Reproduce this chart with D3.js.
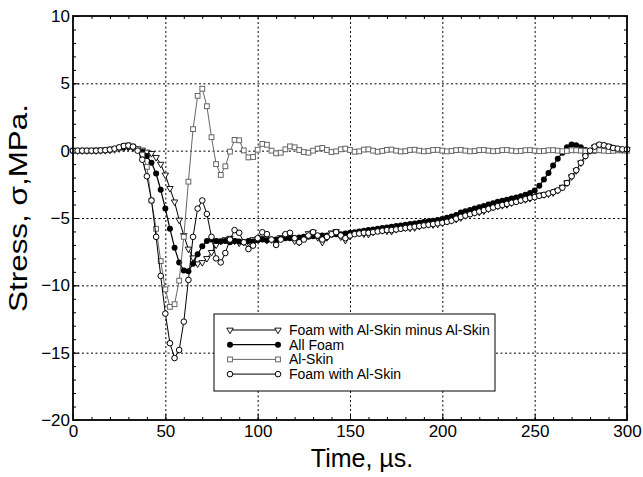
<!DOCTYPE html>
<html>
<head>
<meta charset="utf-8">
<script src="https://cdn.jsdelivr.net/npm/d3@7"></script>
<style>
body { margin: 0; background: #fff; }
text { font-family: "Liberation Sans", Arial, sans-serif; fill: #000; }
</style>
</head>
<body>
<svg id="myGraph" width="643" height="477"></svg>
<script>
// sample times, us
var time = [
  0, 2.5, 5, 7.5, 10, 12.5, 15, 17.5, 20, 22.5,
  25, 27.5, 30, 32.5, 35, 37.5, 40, 42.5, 45, 47.5,
  50, 52.5, 55, 57.5, 60, 62.5, 65, 67.5, 70, 72.5,
  75, 77.5, 80, 82.5, 85, 87.5, 90, 92.5, 95, 97.5,
  100, 102.5, 105, 107.5, 110, 112.5, 115, 117.5, 120, 122.5,
  125, 127.5, 130, 132.5, 135, 137.5, 140, 142.5, 145, 147.5,
  150, 152.5, 155, 157.5, 160, 162.5, 165, 167.5, 170, 172.5,
  175, 177.5, 180, 182.5, 185, 187.5, 190, 192.5, 195, 197.5,
  200, 202.5, 205, 207.5, 210, 212.5, 215, 217.5, 220, 222.5,
  225, 227.5, 230, 232.5, 235, 237.5, 240, 242.5, 245, 247.5,
  250, 252.5, 255, 257.5, 260, 262.5, 265, 267.5, 270, 272.5,
  275, 277.5, 280, 282.5, 285, 287.5, 290, 292.5, 295, 297.5,
  300];

// Foam with Al-Skin minus Al-Skin
var minusSkin = [
  0, 0, 0, 0, 0, 0, 0.01, 0.02, 0.04, 0.08,
  0.15, 0.2, 0.25, 0.22, 0.15, 0.05, -0.1, -0.2, -0.5, -1.0,
  -1.8, -2.8, -3.8, -5.15, -6.3, -7.3, -7.95, -8.4, -8.3, -8.0,
  -7.55, -7.0, -6.7, -6.6, -6.5, -6.7, -6.85, -6.8, -6.8, -6.6,
  -6.55, -6.5, -6.65, -6.6, -6.8, -6.45, -6.3, -6.4, -6.7, -6.8,
  -6.5, -6.15, -6.05, -6.45, -6.8, -6.45, -6.1, -6.0, -6.4, -6.65,
  -6.35, -6.12, -6.1, -6.18, -6.2, -6.05, -5.92, -5.93, -5.96, -5.98,
  -5.85, -5.74, -5.71, -5.75, -5.72, -5.6, -5.5, -5.48, -5.5, -5.46,
  -5.35, -5.23, -5.18, -5.09, -4.98, -4.82, -4.67, -4.59, -4.56, -4.47,
  -4.32, -4.18, -4.1, -4.07, -4.0, -3.87, -3.76, -3.68, -3.63, -3.54,
  -3.45, -3.31, -3.26, -3.21, -3.12, -2.95, -2.71, -2.38, -1.93, -1.48,
  -0.9, -0.37, 0.02, 0.27, 0.42, 0.4, 0.33, 0.21, 0.13, 0.08,
  0.1];

// All Foam
var allFoam = [
  0, 0, 0, 0, 0, 0, 0.02, 0.04, 0.07, 0.12,
  0.2, 0.26, 0.3, 0.25, 0.1, -0.1, -0.4, -0.9, -1.7, -2.9,
  -4.3, -5.8, -7.2, -8.3, -8.9, -8.95, -8.4, -7.7, -7.1, -6.7,
  -6.6, -6.7, -6.75, -6.7, -6.8, -6.7, -6.75, -6.8, -6.7, -6.75,
  -6.65, -6.6, -6.65, -6.6, -6.6, -6.55, -6.5, -6.5, -6.5, -6.45,
  -6.4, -6.4, -6.35, -6.35, -6.3, -6.3, -6.25, -6.2, -6.2, -6.15,
  -6.1, -6.05, -6.0, -5.95, -5.9, -5.85, -5.8, -5.75, -5.7, -5.65,
  -5.6, -5.55, -5.5, -5.45, -5.4, -5.35, -5.3, -5.25, -5.2, -5.15,
  -5.08, -4.98, -4.88, -4.77, -4.6, -4.5, -4.4, -4.3, -4.2, -4.1,
  -4.0, -3.9, -3.8, -3.72, -3.64, -3.55, -3.47, -3.38, -3.28, -3.15,
  -2.95, -2.6, -2.15, -1.65, -1.1, -0.6, -0.15, 0.25, 0.45, 0.4,
  0.25, 0.05, -0.05, 0.0, 0.05, 0.05, 0.04, 0.05, 0.05, 0.05,
  0.05];

// Al-Skin
var alSkin = [
  0, 0, 0, 0, 0, 0.02, 0.03, 0.05, 0.08, 0.12,
  0.2, 0.35, 0.4, 0.3, 0.1, -0.3, -1.2, -3.7, -5.8, -8.2,
  -10.3, -11.6, -11.4, -9.65, -6.4, -2.3, 1.6, 4.07, 4.6, 3.3,
  1.0, -1.0, -1.8, -1.16, -0.07, 0.8, 0.77, 0.02, -0.5, -0.47,
  0.07, 0.5, 0.44, 0.0, -0.2, -0.15, 0.1, 0.32, 0.25, 0.05,
  -0.1, -0.15, 0.0, 0.15, 0.2, 0.05, -0.1, -0.05, 0.1, 0.15,
  0.05, -0.08, -0.05, 0.08, 0.1, 0.0, -0.08, -0.02, 0.06, 0.08,
  0.0, -0.06, -0.04, 0.05, 0.07, 0.0, -0.05, -0.02, 0.05, 0.06,
  0.0, -0.05, -0.02, 0.04, 0.06, 0.0, -0.05, -0.03, 0.04, 0.05,
  0.0, -0.04, -0.02, 0.04, 0.05, 0.0, -0.04, -0.02, 0.03, 0.04,
  0.0, -0.04, -0.02, 0.03, 0.04, 0.0, -0.04, -0.02, 0.03, 0.03,
  0.0, -0.03, -0.02, 0.03, 0.03, 0.0, -0.03, -0.01, 0.02, 0.02,
  0.0];

// Foam with Al-Skin
var withSkin = [
  0, 0, 0, 0, 0, 0, 0.02, 0.04, 0.08, 0.15,
  0.25, 0.35, 0.38, 0.3, 0.0, -0.67, -1.9, -3.7, -6.4, -9.3,
  -12.1, -14.3, -15.4, -14.8, -12.7, -9.6, -6.4, -4.3, -3.7, -4.7,
  -6.4, -8.0, -8.3, -7.6, -6.6, -5.9, -6.1, -6.8, -7.3, -7.05,
  -6.5, -6.06, -6.2, -6.6, -7.0, -6.6, -6.2, -6.1, -6.5, -6.8,
  -6.6, -6.3, -6.05, -6.3, -6.6, -6.4, -6.2, -6.05, -6.3, -6.5,
  -6.3, -6.2, -6.15, -6.1, -6.1, -6.05, -6.0, -5.95, -5.9, -5.9,
  -5.85, -5.8, -5.75, -5.7, -5.65, -5.6, -5.55, -5.5, -5.45, -5.4,
  -5.35, -5.28, -5.2, -5.05, -4.92, -4.82, -4.72, -4.62, -4.52, -4.42,
  -4.32, -4.22, -4.12, -4.03, -3.95, -3.87, -3.8, -3.7, -3.6, -3.5,
  -3.45, -3.35, -3.28, -3.18, -3.08, -2.95, -2.75, -2.4, -1.9, -1.45,
  -0.9, -0.4, 0.0, 0.3, 0.45, 0.4, 0.3, 0.2, 0.15, 0.1,
  0.1];

var seriesNames = ["Foam with Al-Skin minus Al-Skin", "All Foam", "Al-Skin", "Foam with Al-Skin"];
var xTicks = [0, 50, 100, 150, 200, 250, 300];
var yTicks = [-20, -15, -10, -5, 0, 5, 10];

var svg = d3.select("#myGraph");
var pL = 73, pR = 627, pT = 16, pB = 420;

var x = d3.scaleLinear().domain([0, 300]).range([pL, pR]);
var y = d3.scaleLinear().domain([-20, 10]).range([pB, pT]);

// dotted grid
svg.append("g")
  .attr("transform", "translate(0," + pB + ")")
  .call(d3.axisBottom(x).tickValues(xTicks.slice(1, -1)).tickSize(-(pB - pT)).tickFormat(""))
  .call(function(g) { g.select(".domain").remove(); })
  .selectAll("line").attr("stroke", "#000").attr("stroke-dasharray", "2,2.5");
svg.append("g")
  .attr("transform", "translate(" + pL + ",0)")
  .call(d3.axisLeft(y).tickValues(yTicks.slice(1, -1)).tickSize(-(pR - pL)).tickFormat(""))
  .call(function(g) { g.select(".domain").remove(); })
  .selectAll("line").attr("stroke", "#000").attr("stroke-dasharray", "2,2.5");

// minor ticks, all four sides, pointing in
function minor(g) { g.select(".domain").remove(); g.selectAll("line").attr("stroke", "#000"); }
svg.append("g").attr("transform", "translate(0," + pB + ")")
  .call(d3.axisBottom(x).tickValues(d3.range(0, 301, 10)).tickSize(-3).tickFormat("")).call(minor);
svg.append("g").attr("transform", "translate(0," + pT + ")")
  .call(d3.axisTop(x).tickValues(d3.range(0, 301, 10)).tickSize(-3).tickFormat("")).call(minor);
svg.append("g").attr("transform", "translate(" + pL + ",0)")
  .call(d3.axisLeft(y).tickValues(d3.range(-20, 11, 1)).tickSize(-3).tickFormat("")).call(minor);
svg.append("g").attr("transform", "translate(" + pR + ",0)")
  .call(d3.axisRight(y).tickValues(d3.range(-20, 11, 1)).tickSize(-3).tickFormat("")).call(minor);

// major ticks with labels
var xAxis = svg.append("g").attr("transform", "translate(0," + pB + ")")
  .call(d3.axisBottom(x).tickValues(xTicks).tickSize(-6).tickPadding(5));
var yAxis = svg.append("g").attr("transform", "translate(" + pL + ",0)")
  .call(d3.axisLeft(y).tickValues(yTicks).tickSize(-6).tickPadding(3));
[xAxis, yAxis].forEach(function(g) {
  g.select(".domain").remove();
  g.selectAll("line").attr("stroke", "#000");
  g.selectAll("text").style("font-family", "'Liberation Sans', Arial, sans-serif").style("font-size", "17px").attr("fill", "#000");
});

// curves
var styles = [
  {data: minusSkin, color: "#000", width: 1},
  {data: allFoam, color: "#000", width: 1.2},
  {data: alSkin, color: "#666", width: 1},
  {data: withSkin, color: "#000", width: 1}
];

var line = d3.line().x(function(d) { return x(d[0]); }).y(function(d) { return y(d[1]); });

function marker(sel, k) {
  if (k == 0) {
    sel.append("path").attr("d", d3.symbol(d3.symbolTriangle, 18)())
      .attr("transform", function(d) { return "translate(" + d[0] + "," + d[1] + ") rotate(180)"; })
      .attr("fill", "#fff").attr("stroke", "#000").attr("stroke-width", 0.9);
  } else if (k == 1) {
    sel.append("circle").attr("cx", function(d) { return d[0]; }).attr("cy", function(d) { return d[1]; })
      .attr("r", 3).attr("fill", "#000");
  } else if (k == 2) {
    sel.append("rect").attr("x", function(d) { return d[0] - 2.4; }).attr("y", function(d) { return d[1] - 2.4; })
      .attr("width", 4.8).attr("height", 4.8).attr("fill", "#fff").attr("stroke", "#666").attr("stroke-width", 1);
  } else {
    sel.append("circle").attr("cx", function(d) { return d[0]; }).attr("cy", function(d) { return d[1]; })
      .attr("r", 2.8).attr("fill", "#fff").attr("stroke", "#000").attr("stroke-width", 1);
  }
}

styles.forEach(function(s, k) {
  var pts = time.map(function(t, i) { return [t, s.data[i]]; });
  svg.append("path").datum(pts).attr("d", line)
    .attr("fill", "none").attr("stroke", s.color).attr("stroke-width", s.width);
  var g = svg.append("g").selectAll("g").data(pts).enter().append("g");
  marker(g.datum(function(d) { return [x(d[0]), y(d[1])]; }), k);
});

// frame
svg.append("rect").attr("x", pL).attr("y", pT).attr("width", pR - pL).attr("height", pB - pT)
  .attr("fill", "none").attr("stroke", "#000").attr("stroke-width", 1.8);

// legend
var lg = svg.append("g");
lg.append("rect").attr("x", 214).attr("y", 314).attr("width", 281).attr("height", 77)
  .attr("fill", "#fff").attr("stroke", "#000").attr("stroke-width", 1);
seriesNames.forEach(function(name, k) {
  var yy = 330 + k * 14.7;
  lg.append("line").attr("x1", 230).attr("x2", 278).attr("y1", yy).attr("y2", yy)
    .attr("stroke", styles[k].color).attr("stroke-width", styles[k].width);
  marker(lg.append("g").selectAll("g").data([[230, yy], [278, yy]]).enter().append("g"), k);
  lg.append("text").attr("x", 289).attr("y", yy).attr("dy", "0.35em")
    .style("font-size", "14px").text(name);
});

// axis titles
svg.append("text").attr("x", 362).attr("y", 467).attr("text-anchor", "middle")
  .style("font-size", "25px").text("Time, \u00b5s.");
svg.append("text").attr("transform", "translate(27,208) rotate(-90)").attr("text-anchor", "middle")
  .attr("textLength", 208).attr("lengthAdjust", "spacingAndGlyphs")
  .style("font-size", "25px").text("Stress, \u03c3,MPa.");
</script>
</body>
</html>
